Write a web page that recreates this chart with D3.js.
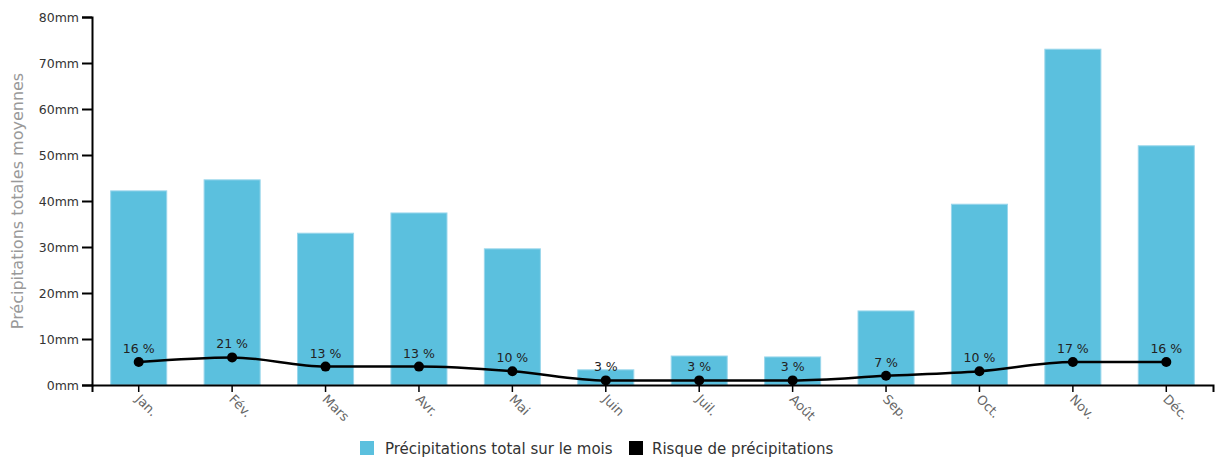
<!DOCTYPE html>
<html><head><meta charset="utf-8">
<script src="https://cdn.jsdelivr.net/npm/d3@7"></script>
<style>
body{margin:0;background:#fff;}
text{font-family:"DejaVu Sans",Verdana,sans-serif;}
</style></head>
<body>
<svg id="c" width="1219" height="461"></svg>
<script>
const months = ["Jan.","Fév.","Mars","Avr.","Mai","Juin","Juil.","Août","Sep.","Oct.","Nov.","Déc."];
const rainMm = [42.2,44.6,33.0,37.4,29.6,3.3,6.3,6.1,16.1,39.3,73.0,52.0];
const rainDays = [5,6,4,4,3,1,1,1,2,3,5,5];
const riskLabels = ["16 %","21 %","13 %","13 %","10 %","3 %","3 %","3 %","7 %","10 %","17 %","16 %"];
const yTicks = [0,10,20,30,40,50,60,70,80];
const legendItems = ["Précipitations total sur le mois","Risque de précipitations"];

const FF = "DejaVu Sans, Verdana, sans-serif";
const svg = d3.select("#c");
const x0 = 92, x1 = 1213, yB = 385, yT = 17;
const x = d3.scaleBand().domain(months).range([x0, x1]).padding(0);
const y = d3.scaleLinear().domain([0, 80]).range([yB, yT]);
const bw = x.bandwidth() * 0.6;

// bars
svg.append("g").selectAll("rect").data(rainMm).join("rect")
  .attr("x", (d,i) => x(months[i]) + x.bandwidth()/2 - bw/2)
  .attr("y", d => y(d))
  .attr("width", bw)
  .attr("height", d => yB - y(d))
  .attr("fill", "#5bc0de")
  .attr("stroke", "#9ad6ec").attr("stroke-width", 1);

// y axis
const ya = svg.append("g").attr("transform", `translate(${x0},0)`)
  .call(d3.axisLeft(y).tickValues(yTicks).tickSize(10).tickPadding(3).tickFormat(d => d + "mm"));
ya.select(".domain").attr("stroke", "#000").attr("stroke-width", 2);
ya.selectAll(".tick line").attr("stroke", "#000").attr("stroke-width", 2);
ya.selectAll(".tick text").attr("font-size", 12.5).attr("fill", "#333").style("font-family", FF);

// x axis
const xa = svg.append("g").attr("transform", `translate(0,${yB})`)
  .call(d3.axisBottom(x).tickSize(7).tickSizeOuter(7));
xa.select(".domain").attr("stroke", "#000").attr("stroke-width", 2);
xa.selectAll(".tick line").attr("stroke", "#000").attr("stroke-width", 1.5);
xa.selectAll(".tick text")
  .attr("font-size", 13).attr("fill", "#666")
  .style("font-family", FF)
  .attr("text-anchor", "start")
  .attr("x", 0).attr("y", 0).attr("dy", 0)
  .attr("transform", "translate(-4,15) rotate(45)");

// y title
svg.append("text")
  .attr("transform", "translate(23,201) rotate(-90)")
  .attr("text-anchor", "middle")
  .attr("font-size", 16).attr("fill", "#999")
  .text("Précipitations totales moyennes");

// line
const cx = i => x(months[i]) + x.bandwidth()/2;
const line = d3.line().x((d,i) => cx(i)).y(d => y(d)).curve(d3.curveMonotoneX);
svg.append("path").datum(rainDays).attr("d", line)
  .attr("fill", "none").attr("stroke", "#000").attr("stroke-width", 2.5);
svg.append("g").selectAll("circle").data(rainDays).join("circle")
  .attr("cx", (d,i) => cx(i)).attr("cy", d => y(d)).attr("r", 5).attr("fill", "#000");
svg.append("g").selectAll("text").data(rainDays).join("text")
  .attr("x", (d,i) => cx(i)).attr("y", d => y(d) - 9)
  .attr("text-anchor", "middle").attr("font-size", 12.5).attr("fill", "#222")
  .text((d,i) => riskLabels[i]);

// legend
const lg = svg.append("g").attr("transform", "translate(360,441)");
lg.append("rect").attr("x", 0).attr("y", 0).attr("width", 14).attr("height", 14).attr("fill", "#5bc0de");
lg.append("text").attr("x", 25).attr("y", 13).attr("font-size", 15).attr("fill", "#333").text(legendItems[0]);
lg.append("rect").attr("x", 269).attr("y", 0).attr("width", 14).attr("height", 14).attr("fill", "#000");
lg.append("text").attr("x", 292).attr("y", 13).attr("font-size", 15).attr("fill", "#333").text(legendItems[1]);
</script>
</body></html>
